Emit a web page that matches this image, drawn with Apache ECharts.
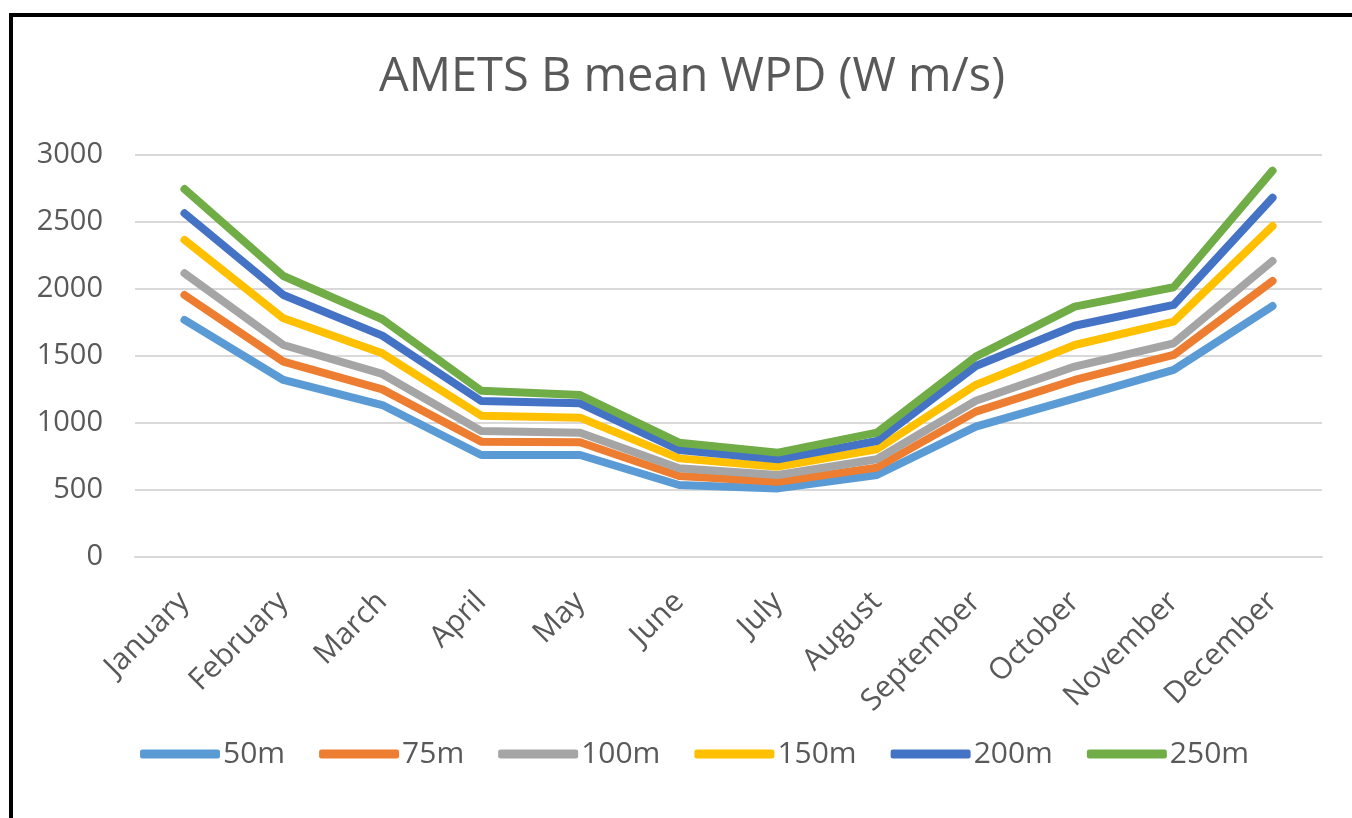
<!DOCTYPE html>
<html>
<head>
<meta charset="utf-8">
<title>AMETS B mean WPD</title>
<script src="https://cdn.jsdelivr.net/npm/echarts@6/dist/echarts.min.js"></script>
<style>
    html, body { margin: 0; padding: 0; background: #fff; }
    #frame {
        position: absolute;
        left: 9px;
        top: 13px;
        width: 1400px;
        height: 900px;
        border-left: 4px solid #000;
        border-top: 4px solid #000;
        box-sizing: border-box;
    }
    #chart_main { position: absolute; left: 0; top: 0; width: 1352px; height: 818px; }
</style>
</head>
<body>
<div id="chart_main"></div>
<div id="frame"></div>
<script>
    // months on the x axis
    const months = ['January', 'February', 'March', 'April', 'May', 'June', 'July', 'August', 'September', 'October', 'November', 'December'];
    const heights = ['50m', '75m', '100m', '150m', '200m', '250m'];
    const yTicks = [0, 500, 1000, 1500, 2000, 2500, 3000];

    // values
    const wpd50 = [1769, 1321, 1134, 761, 761, 537, 512, 612, 973, 1184, 1396, 1873];
    const wpd75 = [1955, 1458, 1251, 861, 856, 604, 562, 667, 1085, 1321, 1508, 2060];
    const wpd100 = [2117, 1582, 1366, 940, 928, 662, 612, 729, 1166, 1421, 1595, 2209];
    const wpd150 = [2366, 1781, 1520, 1055, 1040, 736, 674, 804, 1284, 1582, 1756, 2470];
    const wpd200 = [2565, 1955, 1652, 1164, 1147, 799, 729, 866, 1425, 1726, 1881, 2681];
    const wpd250 = [2746, 2097, 1774, 1241, 1209, 853, 779, 928, 1495, 1868, 2013, 2883];

    const colors = ['#5B9BD5', '#ED7D31', '#A5A5A5', '#FFC000', '#4472C4', '#70AD47'];
    const allData = [wpd50, wpd75, wpd100, wpd150, wpd200, wpd250];

    let myChart = echarts.init(document.getElementById('chart_main'));
    let series = heights.map(function (h, i) {
        return {
            name: h,
            type: 'line',
            data: allData[i],
            symbol: 'none',
            smooth: false,
            lineStyle: { width: 8, cap: 'round', join: 'round' }
        };
    });

    let option = {
        animation: false,
        color: colors,
        textStyle: { fontFamily: 'Open Sans' },
        title: {
            text: 'AMETS B mean WPD (W m/s)',
            left: 687,
            textAlign: 'center',
            top: 49,
            textStyle: { fontSize: 47, fontWeight: 'normal', color: '#595959', fontFamily: 'Open Sans' }
        },
        legend: {
            data: heights,
            left: 140,
            top: 739,
            padding: 0,
            icon: 'roundRect',
            itemWidth: 80,
            itemHeight: 9,
            itemGap: 34,
            textStyle: { fontSize: 30, color: '#595959', padding: [0, 0, 0, -2] }
        },
        grid: { left: 135, right: 30, top: 155, bottom: 261, containLabel: false },
        xAxis: {
            type: 'category',
            data: months,
            boundaryGap: true,
            axisLine: { lineStyle: { color: '#d9d9d9', width: 2 } },
            axisTick: { show: false },
            axisLabel: { rotate: 45, margin: 40, fontSize: 30, color: '#595959', interval: 0 }
        },
        yAxis: {
            type: 'value',
            min: yTicks[0],
            max: yTicks[yTicks.length - 1],
            interval: 500,
            axisLine: { show: false },
            axisTick: { show: false },
            axisLabel: {
                margin: 32,
                fontSize: 29,
                color: '#595959',
                formatter: function (v) { return String(v); }
            },
            splitLine: { lineStyle: { color: '#d9d9d9', width: 2 } }
        },
        series: series
    };
    myChart.setOption(option);
    window.addEventListener('resize', function () {
        myChart.resize();
    });
</script>
</body>
</html>
